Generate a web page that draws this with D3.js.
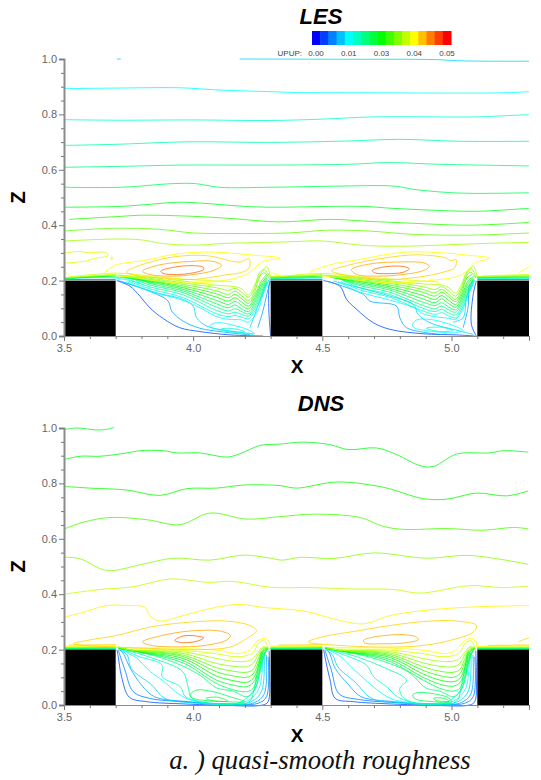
<!DOCTYPE html>
<html lang="en">

<head>
    <meta charset="UTF-8">
    <title>LES / DNS UPUP contours</title>
    <style>
        html, body { margin: 0; padding: 0; background: #fff; }
        svg { display: block; }
    </style>
</head>

<body>
    <div id="chart"></div>

    <script src="https://d3js.org/d3.v7.min.js"></script>
    <script>
        // tick labels and colour key
        const xMajor = [3.5, 4.0, 4.5, 5.0];
        const xMinor = [3.6, 3.7, 3.8, 3.9, 4.1, 4.2, 4.3, 4.4, 4.6, 4.7, 4.8, 4.9, 5.1, 5.2, 5.3];
        const zMajor = [0.0, 0.2, 0.4, 0.6, 0.8, 1.0];
        const zMinor = [0.05, 0.1, 0.15, 0.25, 0.3, 0.35, 0.45, 0.5, 0.55, 0.65, 0.7, 0.75, 0.85, 0.9, 0.95];
        const keyValues = [0, 0.0031, 0.0063, 0.0094, 0.0125, 0.0156, 0.0188, 0.0219, 0.025, 0.0281, 0.0313, 0.0344, 0.0375, 0.0406, 0.0438, 0.0469, 0.05];
        const keyLabels = ["0.00", "0.01", "0.03", "0.04", "0.05"];
        const roughness = [[3.5, 3.7], [4.3, 4.5], [5.1, 5.3]];

        // LES: [UPUP level, [[x, z], ...]]  (null breaks a line)
        const lesOpen = [
            [0.0104, [[3.705, 1.0], [3.72, 1.0]]],
            [0.0104, [[4.18, 1.0], [4.6, 0.999], [4.93, 0.998], [5.05, 0.993], [5.3, 0.992]]],
            [0.0125, [[3.5, 0.893], [3.7, 0.895], [3.95, 0.896], [4.1, 0.888], [4.3, 0.882], [4.4, 0.879], [4.7, 0.878], [5.0, 0.877], [5.2, 0.878], [5.3, 0.882]]],
            [0.0146, [[3.5, 0.781], [3.7, 0.779], [4.0, 0.78], [4.3, 0.778], [4.5, 0.783], [4.7, 0.791], [5.1, 0.791], [5.2, 0.795], [5.3, 0.799]]],
            [0.0167, [[3.5, 0.688], [3.7, 0.692], [3.98, 0.701], [4.3, 0.699], [4.6, 0.704], [4.8, 0.71], [5.03, 0.703], [5.3, 0.703]]],
            [0.0188, [[3.5, 0.609], [3.75, 0.613], [3.95, 0.617], [4.3, 0.617], [4.6, 0.62], [4.76, 0.626], [4.95, 0.62], [5.3, 0.614]]],
            [0.0208, [[3.5, 0.537], [3.72, 0.537], [3.92, 0.55], [4.01, 0.55], [4.1, 0.537], [4.3, 0.537], [4.55, 0.541], [4.78, 0.541], [4.85, 0.53], [4.97, 0.519], [5.08, 0.515], [5.3, 0.517]]],
            [0.0235, [[3.5, 0.465], [3.72, 0.468], [3.84, 0.476], [3.95, 0.483], [4.2, 0.468], [4.3, 0.465], [4.65, 0.468], [4.77, 0.461], [4.93, 0.454], [5.08, 0.45], [5.15, 0.452], [5.3, 0.461]]],
            [0.027, [[3.52, 0.421], [3.72, 0.432], [3.8, 0.436], [4.0, 0.432], [4.15, 0.424], [4.33, 0.412], [4.53, 0.421], [4.68, 0.414], [4.85, 0.407], [5.05, 0.4], [5.17, 0.403], [5.3, 0.41]]],
            [0.03, [[3.5, 0.379], [3.7, 0.389], [3.87, 0.385], [4.0, 0.372], [4.15, 0.37], [4.37, 0.372], [4.52, 0.382], [4.68, 0.379], [4.85, 0.367], [5.07, 0.364], [5.3, 0.372]]],
            [0.033, [[3.5, 0.343], [3.7, 0.35], [3.8, 0.347], [3.88, 0.334], [4.0, 0.328], [4.12, 0.334], [4.37, 0.34], [4.5, 0.343], [4.65, 0.328], [4.78, 0.324], [4.95, 0.328], [5.12, 0.334], [5.3, 0.338]]],
            [0.036, [[3.5, 0.3], [3.56, 0.305], [3.6, 0.3], [3.63, 0.303], [3.665, 0.3], [3.67, 0.29], [3.62, 0.28], [3.58, 0.27], [3.5, 0.263]]],
            [0.0375, [[3.5, 0.245], [3.51, 0.225], [3.53, 0.212]]],
            [0.0375, [[5.26, 0.228], [5.3, 0.251]]],
            [0.0375, [[4.3, 0.23], [4.37, 0.21], [4.44, 0.213]]],
            // right wall of the first cavity
            [0.004, [[4.3, 0], [4.293, 0.09], [4.295, 0.19], [4.3, 0.2]]],
            [0.0083, [[4.25, 0.03], [4.27, 0.09], [4.285, 0.15], [4.298, 0.198]]],
            [0.0104, [[4.22, 0.03], [4.258, 0.126], [4.283, 0.19], [4.3, 0.205]]],
            // first cavity, lower fan
            [0.004, [[3.704, 0.2], [3.755, 0.18], [3.794, 0.144], [3.832, 0.102], [3.884, 0.063], [3.948, 0.03], [4.026, 0.016], [4.142, 0.004], [4.27, 0]]],
            [0.0083, [[3.71, 0.2], [3.83, 0.162], [3.903, 0.126], [3.917, 0.09], [3.961, 0.054], [4.026, 0.028], [4.103, 0.016], [4.22, 0.004]]],
            [0.0104, [[3.729, 0.195], [3.858, 0.156], [3.961, 0.132], [4.0, 0.108], [4.013, 0.066], [4.052, 0.036], [4.129, 0.02], [4.232, 0.008]]],
            // first cavity, wavy levels
            [0.0125, [[3.74, 0.197], [3.833, 0.162], [3.962, 0.128], [4.03, 0.1], [4.091, 0.07], [4.136, 0.06], [4.188, 0.058], [4.214, 0.05], [4.25, 0.09], [4.27, 0.15], [4.295, 0.205]]],
            [0.0146, [[3.75, 0.198], [3.833, 0.17], [3.962, 0.138], [4.091, 0.08], [4.136, 0.07], [4.162, 0.074], [4.188, 0.068], [4.214, 0.062], [4.239, 0.09], [4.265, 0.14], [4.285, 0.19]]],
            [0.0167, [[3.76, 0.2], [3.833, 0.177], [3.962, 0.148], [4.091, 0.092], [4.136, 0.08], [4.162, 0.086], [4.188, 0.078], [4.214, 0.072], [4.239, 0.1], [4.265, 0.15], [4.285, 0.195]]],
            [0.0188, [[3.77, 0.205], [3.833, 0.184], [3.962, 0.156], [4.091, 0.104], [4.136, 0.09], [4.162, 0.098], [4.188, 0.088], [4.214, 0.08], [4.239, 0.11], [4.265, 0.16], [4.285, 0.2]]],
            [0.0208, [[3.78, 0.208], [3.833, 0.19], [3.962, 0.162], [4.091, 0.116], [4.136, 0.102], [4.162, 0.112], [4.188, 0.098], [4.214, 0.088], [4.239, 0.12], [4.265, 0.17], [4.285, 0.205]]],
            [0.0229, [[3.76, 0.21], [3.833, 0.195], [3.962, 0.168], [4.091, 0.128], [4.136, 0.114], [4.162, 0.125], [4.188, 0.11], [4.214, 0.098], [4.239, 0.13], [4.265, 0.18], [4.285, 0.21]]],
            [0.025, [[3.74, 0.21], [3.833, 0.198], [3.962, 0.174], [4.091, 0.14], [4.136, 0.126], [4.162, 0.138], [4.188, 0.122], [4.214, 0.108], [4.239, 0.14], [4.265, 0.19], [4.285, 0.215]]],
            [0.0271, [[3.73, 0.212], [3.833, 0.2], [3.962, 0.18], [4.091, 0.152], [4.136, 0.138], [4.162, 0.15], [4.188, 0.134], [4.214, 0.118], [4.239, 0.15], [4.265, 0.2], [4.285, 0.222]]],
            [0.0292, [[3.72, 0.215], [3.833, 0.204], [3.962, 0.186], [4.091, 0.163], [4.136, 0.15], [4.162, 0.162], [4.188, 0.145], [4.214, 0.128], [4.238, 0.16], [4.258, 0.215], [4.275, 0.228], [4.295, 0.208]]],
            [0.0313, [[3.71, 0.218], [3.833, 0.208], [3.962, 0.192], [4.091, 0.174], [4.136, 0.165], [4.162, 0.172], [4.188, 0.158], [4.214, 0.14], [4.235, 0.165], [4.255, 0.225], [4.275, 0.24], [4.29, 0.225], [4.3, 0.208]]],
            [0.0333, [[3.7, 0.22], [3.833, 0.212], [3.962, 0.198], [4.091, 0.183], [4.162, 0.178], [4.188, 0.17], [4.214, 0.148], [4.239, 0.185], [4.265, 0.23], [4.285, 0.25], [4.3, 0.21]]],
            // second cavity
            [0.004, [[4.504, 0.2], [4.568, 0.18], [4.594, 0.132], [4.633, 0.096], [4.697, 0.048], [4.762, 0.024], [4.89, 0.008], [5.019, 0.004], [5.09, 0]]],
            [0.0083, [[4.518, 0.198], [4.659, 0.15], [4.684, 0.126], [4.787, 0.108], [4.8, 0.066], [4.826, 0.03], [4.955, 0.006]]],
            [0.0104, [[4.543, 0.198], [4.762, 0.144], [4.852, 0.114], [4.871, 0.078], [4.916, 0.048], [5.006, 0.024], [5.084, 0.006]]],
            [0.004, [[5.096, 0], [5.077, 0.042], [5.084, 0.15], [5.096, 0.198]]],
            [0.0083, [[5.045, 0.03], [5.064, 0.102], [5.071, 0.186], [5.09, 0.198]]],
            [0.0104, [[5.006, 0.05], [5.045, 0.066], [5.058, 0.138], [5.084, 0.204]]],
            [0.0125, [[4.56, 0.197], [4.64, 0.16], [4.76, 0.13], [4.86, 0.1], [4.89, 0.08], [4.95, 0.068], [4.99, 0.064], [5.014, 0.06], [5.04, 0.09], [5.065, 0.15], [5.09, 0.205]]],
            [0.0146, [[4.57, 0.198], [4.64, 0.168], [4.76, 0.14], [4.89, 0.09], [4.936, 0.078], [4.962, 0.084], [4.99, 0.072], [5.016, 0.066], [5.04, 0.098], [5.065, 0.15], [5.085, 0.19]]],
            [0.0167, [[4.58, 0.2], [4.64, 0.176], [4.76, 0.15], [4.89, 0.1], [4.936, 0.088], [4.962, 0.096], [4.99, 0.082], [5.016, 0.076], [5.04, 0.108], [5.065, 0.16], [5.085, 0.195]]],
            [0.0188, [[4.57, 0.205], [4.64, 0.183], [4.76, 0.158], [4.89, 0.11], [4.936, 0.098], [4.962, 0.108], [4.99, 0.094], [5.016, 0.086], [5.04, 0.118], [5.065, 0.17], [5.085, 0.2]]],
            [0.0208, [[4.56, 0.208], [4.64, 0.188], [4.76, 0.166], [4.89, 0.122], [4.936, 0.11], [4.962, 0.12], [4.99, 0.104], [5.016, 0.094], [5.04, 0.128], [5.065, 0.18], [5.085, 0.205]]],
            [0.0229, [[4.55, 0.21], [4.64, 0.193], [4.76, 0.172], [4.89, 0.134], [4.936, 0.12], [4.962, 0.134], [4.99, 0.116], [5.016, 0.104], [5.04, 0.138], [5.065, 0.19], [5.085, 0.21]]],
            [0.025, [[4.54, 0.21], [4.64, 0.197], [4.76, 0.178], [4.89, 0.146], [4.936, 0.132], [4.962, 0.146], [4.99, 0.128], [5.016, 0.114], [5.04, 0.148], [5.065, 0.2], [5.085, 0.215]]],
            [0.0271, [[4.53, 0.212], [4.64, 0.2], [4.76, 0.184], [4.89, 0.158], [4.936, 0.144], [4.962, 0.158], [4.99, 0.14], [5.016, 0.124], [5.04, 0.158], [5.06, 0.21], [5.08, 0.222]]],
            [0.0292, [[4.52, 0.215], [4.64, 0.204], [4.76, 0.19], [4.89, 0.168], [4.936, 0.156], [4.962, 0.168], [4.99, 0.15], [5.016, 0.132], [5.04, 0.17], [5.06, 0.22], [5.075, 0.23], [5.095, 0.208]]],
            [0.0313, [[4.51, 0.218], [4.64, 0.208], [4.76, 0.196], [4.89, 0.178], [4.936, 0.168], [4.962, 0.178], [4.99, 0.162], [5.016, 0.144], [5.038, 0.175], [5.058, 0.23], [5.078, 0.242], [5.095, 0.21]]],
            [0.0333, [[4.5, 0.22], [4.64, 0.212], [4.76, 0.2], [4.89, 0.188], [4.962, 0.184], [4.99, 0.174], [5.016, 0.155], [5.04, 0.19], [5.065, 0.235], [5.085, 0.252], [5.1, 0.21]]]
        ];

        const lesLoops = [
            [0.0375, [[3.659, 0.228], [3.704, 0.257], [3.807, 0.272], [3.936, 0.296], [4.064, 0.303], [4.219, 0.293], [4.335, 0.281], [4.27, 0.269], [4.232, 0.24], [4.206, 0.222], [4.116, 0.2], [3.94, 0.192], [3.76, 0.212]]],
            [0.0396, [[3.742, 0.231], [3.82, 0.263], [3.936, 0.287], [4.052, 0.29], [4.18, 0.267], [4.216, 0.279], [4.219, 0.251], [4.2, 0.234], [4.116, 0.219], [4.0, 0.204], [3.871, 0.21], [3.781, 0.219]]],
            [0.0417, [[3.804, 0.234], [3.871, 0.257], [3.987, 0.269], [4.077, 0.269], [4.11, 0.255], [4.077, 0.236], [4.0, 0.222], [3.923, 0.216], [3.832, 0.222]]],
            [0.045, [[3.875, 0.234], [3.923, 0.248], [4.0, 0.254], [4.039, 0.248], [4.04, 0.24], [4.0, 0.228], [3.936, 0.222], [3.884, 0.226]]],
            [0.0375, [[4.452, 0.228], [4.53, 0.257], [4.633, 0.275], [4.826, 0.303], [4.981, 0.299], [5.071, 0.291], [5.148, 0.281], [5.09, 0.263], [5.058, 0.234], [5.026, 0.216], [4.955, 0.204], [4.762, 0.192], [4.568, 0.21]]],
            [0.0396, [[4.536, 0.236], [4.607, 0.257], [4.736, 0.281], [4.865, 0.293], [4.981, 0.281], [4.994, 0.272], [5.019, 0.275], [5.012, 0.246], [4.981, 0.234], [4.916, 0.219], [4.762, 0.204], [4.607, 0.216]]],
            [0.0417, [[4.613, 0.24], [4.684, 0.26], [4.787, 0.267], [4.897, 0.263], [4.914, 0.251], [4.89, 0.236], [4.813, 0.222], [4.71, 0.216], [4.633, 0.222]]],
            [0.045, [[4.693, 0.236], [4.736, 0.249], [4.813, 0.251], [4.836, 0.243], [4.813, 0.23], [4.749, 0.225], [4.703, 0.228]]],
            [0.0125, [[4.064, 0.036], [4.09, 0.048], [4.168, 0.036], [4.219, 0.02], [4.238, 0.008], [4.168, 0.012], [4.09, 0.024]]],
            [0.0146, [[4.11, 0.026], [4.16, 0.026], [4.2, 0.015], [4.15, 0.016]]],
            [0.0125, [[4.849, 0.042], [4.865, 0.058], [4.916, 0.06], [4.994, 0.042], [5.045, 0.02], [5.019, 0.012], [4.916, 0.018], [4.855, 0.03]]],
            [0.0146, [[4.903, 0.028], [4.955, 0.032], [5.006, 0.02], [4.955, 0.016]]],
            [0.036, [[3.682, 0.285], [3.69, 0.28], [3.684, 0.275]]]
        ];

        const lesSurface = [
            [0.0063, [[3.5, 0.204], [3.7, 0.204], null, [4.3, 0.204], [4.5, 0.204], null, [5.1, 0.204], [5.3, 0.204]]],
            [0.0125, [[3.5, 0.206], [3.7, 0.209], [3.8, 0.19], null, [4.3, 0.207], [4.5, 0.209], null, [5.1, 0.207], [5.3, 0.208]]],
            [0.0188, [[3.5, 0.207], [3.7, 0.213], [3.85, 0.19], null, [4.3, 0.208], [4.5, 0.212], null, [5.1, 0.209], [5.3, 0.21]]],
            [0.025, [[3.5, 0.208], [3.7, 0.217], null, [4.3, 0.21], [4.5, 0.216], null, [5.1, 0.211], [5.3, 0.213]]],
            [0.0292, [[3.5, 0.209], [3.7, 0.22], null, [4.3, 0.212], [4.5, 0.219], null, [5.1, 0.213], [5.3, 0.216]]],
            [0.0333, [[3.5, 0.21], [3.7, 0.223], null, [4.3, 0.214], [4.5, 0.222], null, [5.1, 0.215], [5.3, 0.219]]],
            [0.0354, [[3.52, 0.213], [3.7, 0.227], [3.85, 0.215], [4.0, 0.203], [4.15, 0.197], null, [4.33, 0.214], [4.5, 0.226], [4.7, 0.21], [4.95, 0.195], null, [5.12, 0.217], [5.3, 0.222]]]
        ];

        // DNS
        const dnsOpen = [
            [0.0229, [[3.5, 0.994], [3.549, 1.0], [3.626, 0.993], [3.665, 0.995], [3.694, 1.002]]],
            [0.024, [[3.5, 0.886], [3.562, 0.898], [3.639, 0.898], [3.743, 0.91], [3.794, 0.918], [3.885, 0.918], [3.937, 0.91], [4.026, 0.91], [4.13, 0.895], [4.181, 0.907], [4.259, 0.937], [4.336, 0.942], [4.427, 0.949], [4.53, 0.94], [4.6, 0.922], [4.71, 0.928], [4.788, 0.904], [4.878, 0.864], [4.93, 0.861], [5.02, 0.906], [5.149, 0.91], [5.2, 0.918], [5.297, 0.913]]],
            [0.0255, [[3.5, 0.789], [3.6, 0.783], [3.743, 0.776], [3.872, 0.757], [3.975, 0.781], [4.091, 0.783], [4.194, 0.794], [4.336, 0.792], [4.4, 0.783], [4.556, 0.805], [4.736, 0.786], [4.891, 0.745], [4.981, 0.743], [5.097, 0.765], [5.214, 0.755], [5.297, 0.773]]],
            [0.0285, [[3.5, 0.635], [3.575, 0.66], [3.678, 0.677], [3.82, 0.669], [3.949, 0.651], [4.065, 0.693], [4.207, 0.671], [4.336, 0.68], [4.465, 0.689], [4.646, 0.677], [4.736, 0.645], [4.814, 0.634], [4.981, 0.637], [5.123, 0.631], [5.24, 0.641], [5.297, 0.636]]],
            [0.0315, [[3.5, 0.534], [3.562, 0.528], [3.665, 0.486], [3.794, 0.506], [3.923, 0.53], [4.065, 0.523], [4.194, 0.541], [4.3, 0.53], [4.343, 0.523], [4.414, 0.533], [4.543, 0.529], [4.7, 0.549], [4.904, 0.53], [5.07, 0.54], [5.297, 0.508]]],
            [0.0345, [[3.5, 0.4], [3.639, 0.417], [3.768, 0.427], [3.91, 0.455], [4.052, 0.443], [4.155, 0.446], [4.3, 0.425], [4.452, 0.424], [4.607, 0.419], [4.775, 0.417], [4.878, 0.404], [5.07, 0.431], [5.2, 0.424], [5.297, 0.429]]],
            [0.038, [[3.5, 0.317], [3.575, 0.335], [3.665, 0.359], [3.742, 0.359], [3.813, 0.353], [3.832, 0.323], [3.871, 0.303], [3.961, 0.323], [4.09, 0.353], [4.18, 0.363], [4.283, 0.351], [4.375, 0.345], [4.452, 0.335], [4.543, 0.311], [4.659, 0.293], [4.762, 0.323], [4.89, 0.341], [5.02, 0.351], [5.148, 0.356], [5.3, 0.359]]],
            [0.0396, [[5.26, 0.228], [5.28, 0.236], [5.3, 0.242]]],
            // first cavity
            [0.004, [[3.705, 0.2], [3.71, 0.174], [3.723, 0.102], [3.753, 0.028], [3.82, 0.012], [3.961, 0.004], [4.09, 0], [4.27, 0], [4.29, 0.012], [4.296, 0.114], [4.294, 0.196]]],
            [0.0063, [[3.71, 0.198], [3.736, 0.126], [3.768, 0.048], [3.832, 0.024], [3.961, 0.012], [4.116, 0.004], [4.251, 0.006], [4.284, 0.03], [4.29, 0.174]]],
            [0.0083, [[3.712, 0.2], [3.725, 0.192], [3.757, 0.132], [3.8, 0.072], [3.85, 0.03], [3.98, 0.012], [4.09, 0.004], [4.235, 0.008], [4.275, 0.04], [4.283, 0.18]]],
            [0.0104, [[3.715, 0.2], [3.745, 0.18], [3.76, 0.132], [3.84, 0.072], [3.89, 0.024], [3.99, 0.008], [4.14, 0.004], [4.225, 0.012], [4.265, 0.05], [4.275, 0.19]]],
            [0.0125, [[3.718, 0.201], [3.78, 0.17], [3.835, 0.12], [3.88, 0.09], [3.95, 0.036], [4.01, 0.012], [4.13, 0.004], [4.21, 0.015], [4.255, 0.06], [4.27, 0.19]]],
            [0.0146, [[3.72, 0.202], [3.79, 0.175], [3.88, 0.144], [3.88, 0.102], [3.95, 0.066], [3.97, 0.03], [4.03, 0.012], [4.16, 0.004], [4.2, 0.02], [4.245, 0.07], [4.265, 0.195]]],
            [0.0167, [[3.72, 0.203], [3.84, 0.17], [3.96, 0.12], [3.98, 0.066], [3.995, 0.024], [4.06, 0.006], [4.2, 0.004], [4.225, 0.02], [4.235, 0.054], [4.262, 0.19]]],
            [0.0188, [[3.72, 0.204], [3.85, 0.178], [3.961, 0.14], [4.03, 0.105], [4.09, 0.062], [4.155, 0.05], [4.206, 0.03], [4.232, 0.045], [4.251, 0.09], [4.27, 0.165], [4.285, 0.2]]],
            [0.0208, [[3.71, 0.204], [3.82, 0.186], [3.961, 0.152], [4.09, 0.078], [4.155, 0.055], [4.206, 0.048], [4.232, 0.06], [4.251, 0.105], [4.27, 0.17], [4.288, 0.203]]],
            [0.0229, [[3.71, 0.205], [3.8, 0.19], [3.961, 0.16], [4.09, 0.09], [4.155, 0.072], [4.206, 0.066], [4.232, 0.08], [4.251, 0.12], [4.27, 0.18], [4.29, 0.204]]],
            [0.025, [[3.71, 0.206], [3.79, 0.192], [3.961, 0.168], [4.09, 0.105], [4.155, 0.088], [4.206, 0.082], [4.232, 0.095], [4.251, 0.135], [4.27, 0.19], [4.29, 0.205]]],
            [0.0271, [[3.71, 0.207], [3.78, 0.195], [3.961, 0.175], [4.09, 0.12], [4.155, 0.105], [4.206, 0.1], [4.232, 0.112], [4.251, 0.15], [4.27, 0.195], [4.29, 0.205]]],
            [0.0292, [[3.71, 0.208], [3.77, 0.197], [3.961, 0.18], [4.09, 0.135], [4.155, 0.122], [4.206, 0.118], [4.232, 0.128], [4.251, 0.165], [4.27, 0.2], [4.29, 0.206]]],
            [0.0313, [[3.71, 0.209], [3.76, 0.199], [3.961, 0.186], [4.09, 0.15], [4.155, 0.14], [4.206, 0.138], [4.232, 0.15], [4.251, 0.18], [4.27, 0.205], [4.29, 0.206]]],
            [0.0333, [[3.71, 0.21], [3.75, 0.2], [3.961, 0.192], [4.09, 0.168], [4.155, 0.158], [4.206, 0.158], [4.232, 0.168], [4.251, 0.19], [4.27, 0.21], [4.29, 0.207]]],
            [0.0354, [[3.74, 0.202], [3.961, 0.197], [4.09, 0.185], [4.155, 0.175], [4.206, 0.178], [4.232, 0.19], [4.255, 0.225], [4.275, 0.232], [4.29, 0.21]]],
            [0.0375, [[3.73, 0.208], [3.961, 0.204], [4.09, 0.198], [4.18, 0.186], [4.22, 0.2], [4.25, 0.232], [4.28, 0.24], [4.296, 0.225], [4.296, 0.208]]],
            // second cavity
            [0.004, [[4.505, 0.2], [4.51, 0.174], [4.53, 0.09], [4.55, 0.024], [4.62, 0.012], [4.76, 0.004], [4.9, 0], [5.07, 0], [5.09, 0.012], [5.096, 0.114], [5.094, 0.196]]],
            [0.0063, [[4.51, 0.198], [4.535, 0.126], [4.565, 0.04], [4.64, 0.02], [4.76, 0.01], [4.92, 0.004], [5.05, 0.006], [5.084, 0.03], [5.09, 0.174]]],
            [0.0083, [[4.512, 0.2], [4.525, 0.192], [4.55, 0.132], [4.6, 0.075], [4.65, 0.03], [4.78, 0.012], [4.89, 0.004], [5.035, 0.008], [5.075, 0.04], [5.083, 0.18]]],
            [0.0104, [[4.515, 0.2], [4.54, 0.18], [4.56, 0.138], [4.63, 0.08], [4.69, 0.024], [4.8, 0.008], [4.94, 0.004], [5.025, 0.012], [5.065, 0.05], [5.075, 0.19]]],
            [0.0125, [[4.518, 0.201], [4.57, 0.175], [4.62, 0.13], [4.68, 0.08], [4.75, 0.03], [4.81, 0.012], [4.93, 0.004], [5.01, 0.015], [5.055, 0.06], [5.07, 0.19]]],
            [0.0146, [[4.52, 0.202], [4.6, 0.175], [4.67, 0.145], [4.7, 0.1], [4.75, 0.065], [4.79, 0.03], [4.84, 0.012], [4.96, 0.004], [5.0, 0.02], [5.045, 0.07], [5.065, 0.195]]],
            [0.0167, [[4.52, 0.203], [4.64, 0.172], [4.74, 0.135], [4.826, 0.09], [4.8, 0.06], [4.81, 0.03], [4.86, 0.006], [5.0, 0.004], [5.025, 0.02], [5.035, 0.054], [5.062, 0.19]]],
            [0.0188, [[4.52, 0.204], [4.66, 0.178], [4.76, 0.15], [4.84, 0.115], [4.9, 0.062], [4.955, 0.05], [5.006, 0.03], [5.032, 0.045], [5.051, 0.09], [5.07, 0.165], [5.085, 0.2]]],
            [0.0208, [[4.51, 0.204], [4.63, 0.186], [4.76, 0.158], [4.89, 0.09], [4.955, 0.06], [5.006, 0.05], [5.032, 0.06], [5.051, 0.105], [5.07, 0.17], [5.088, 0.203]]],
            [0.0229, [[4.51, 0.205], [4.61, 0.19], [4.76, 0.165], [4.89, 0.1], [4.955, 0.075], [5.006, 0.068], [5.032, 0.08], [5.051, 0.12], [5.07, 0.18], [5.09, 0.204]]],
            [0.025, [[4.51, 0.206], [4.59, 0.192], [4.76, 0.172], [4.89, 0.112], [4.955, 0.09], [5.006, 0.084], [5.032, 0.095], [5.051, 0.135], [5.07, 0.19], [5.09, 0.205]]],
            [0.0271, [[4.51, 0.207], [4.58, 0.195], [4.76, 0.178], [4.89, 0.125], [4.955, 0.106], [5.006, 0.1], [5.032, 0.112], [5.051, 0.15], [5.07, 0.195], [5.09, 0.205]]],
            [0.0292, [[4.51, 0.208], [4.57, 0.197], [4.76, 0.183], [4.89, 0.138], [4.955, 0.122], [5.006, 0.118], [5.032, 0.128], [5.051, 0.165], [5.07, 0.2], [5.09, 0.206]]],
            [0.0313, [[4.51, 0.209], [4.56, 0.199], [4.76, 0.188], [4.89, 0.152], [4.955, 0.14], [5.006, 0.138], [5.032, 0.15], [5.051, 0.18], [5.07, 0.205], [5.09, 0.206]]],
            [0.0333, [[4.51, 0.21], [4.55, 0.2], [4.76, 0.193], [4.89, 0.168], [4.955, 0.158], [5.006, 0.158], [5.032, 0.168], [5.051, 0.19], [5.07, 0.21], [5.09, 0.207]]],
            [0.0354, [[4.54, 0.202], [4.76, 0.198], [4.89, 0.185], [4.955, 0.175], [5.006, 0.178], [5.032, 0.19], [5.055, 0.225], [5.075, 0.232], [5.09, 0.21]]],
            [0.0375, [[4.53, 0.208], [4.76, 0.205], [4.89, 0.198], [4.98, 0.186], [5.02, 0.2], [5.05, 0.232], [5.08, 0.24], [5.096, 0.225], [5.096, 0.208]]]
        ];

        const dnsLoops = [
            [0.0396, [[3.536, 0.221], [3.6, 0.235], [3.704, 0.251], [3.832, 0.281], [3.961, 0.297], [4.129, 0.303], [4.219, 0.287], [4.245, 0.269], [4.206, 0.239], [4.142, 0.209], [4.026, 0.2], [3.832, 0.204], [3.639, 0.212]]],
            [0.0417, [[3.804, 0.228], [3.871, 0.249], [3.987, 0.267], [4.103, 0.267], [4.144, 0.251], [4.129, 0.234], [4.052, 0.216], [3.961, 0.21], [3.832, 0.216]]],
            [0.045, [[3.929, 0.233], [3.961, 0.249], [4.013, 0.249], [4.041, 0.242], [4.013, 0.23], [3.961, 0.225]]],
            [0.0396, [[4.446, 0.228], [4.5, 0.246], [4.633, 0.267], [4.762, 0.287], [4.916, 0.303], [5.019, 0.303], [5.097, 0.287], [5.084, 0.263], [4.994, 0.233], [4.89, 0.215], [4.762, 0.209], [4.568, 0.215]]],
            [0.0417, [[4.659, 0.233], [4.697, 0.245], [4.813, 0.254], [4.865, 0.245], [4.871, 0.236], [4.826, 0.225], [4.736, 0.221], [4.665, 0.224]]],
            [0.0208, [[3.988, 0.036], [4.013, 0.054], [4.077, 0.048], [4.142, 0.03], [4.2, 0.012], [4.13, 0.012], [4.0, 0.024]]],
            [0.0229, [[4.05, 0.024], [4.095, 0.028], [4.134, 0.014], [4.07, 0.016]]],
            [0.0208, [[4.85, 0.036], [4.865, 0.044], [4.92, 0.042], [4.99, 0.025], [5.0, 0.01], [4.93, 0.012], [4.86, 0.022]]],
            [0.0229, [[4.93, 0.024], [4.97, 0.024], [4.99, 0.014], [4.94, 0.016]]]
        ];

        const dnsSurface = [
            [0.0063, [[3.5, 0.202], [3.7, 0.202], null, [4.3, 0.202], [4.5, 0.202], null, [5.1, 0.202], [5.3, 0.202]]],
            [0.0125, [[3.5, 0.203], [3.7, 0.203], null, [4.3, 0.203], [4.5, 0.203], null, [5.1, 0.203], [5.3, 0.203]]],
            [0.0188, [[3.5, 0.204], [3.7, 0.205], null, [4.3, 0.204], [4.5, 0.205], null, [5.1, 0.204], [5.3, 0.205]]],
            [0.025, [[3.5, 0.206], [3.7, 0.207], null, [4.3, 0.206], [4.5, 0.207], null, [5.1, 0.206], [5.3, 0.206]]],
            [0.0313, [[3.5, 0.208], [3.7, 0.209], null, [4.3, 0.208], [4.5, 0.209], null, [5.1, 0.208], [5.3, 0.208]]],
            [0.0354, [[3.5, 0.21], [3.7, 0.211], null, [4.3, 0.21], [4.5, 0.211], null, [5.1, 0.21], [5.3, 0.21]]],
            [0.0375, [[3.5, 0.212], [3.7, 0.214], null, [4.3, 0.213], [4.5, 0.214], null, [5.1, 0.212], [5.3, 0.214]]],
            [0.0396, [[3.52, 0.216], [3.7, 0.218], null, [4.33, 0.216], [4.5, 0.218], null, [5.14, 0.215], [5.3, 0.217]]]
        ];

        const width = 541, height = 780;
        const plotLeft = 64, plotRight = 529;

        const svg = d3.select("#chart").append("svg")
            .attr("width", width)
            .attr("height", height)
            .attr("font-family", "'Liberation Sans', Arial, sans-serif");

        const x = d3.scaleLinear().domain([3.5, 5.3]).range([plotLeft, plotRight]);

        const color = d3.scaleLinear()
            .domain([0, 0.0125, 0.025, 0.0375, 0.05])
            .range(["#0000ff", "#00ffff", "#00ff00", "#ffff00", "#ff0000"]);

        function drawPanel(title, top, bottom, titleY, open, loops, surface) {
            const z = d3.scaleLinear().domain([0, 1]).range([bottom, top]);
            const g = svg.append("g");

            const openLine = d3.line()
                .defined(d => d)
                .x(d => x(d[0]))
                .y(d => z(d[1]))
                .curve(d3.curveCatmullRom.alpha(0.5));

            const loopLine = d3.line()
                .x(d => x(d[0]))
                .y(d => z(d[1]))
                .curve(d3.curveCatmullRomClosed.alpha(0.5));

            g.selectAll(".level")
                .data(open.concat(surface))
                .enter().append("path")
                .attr("fill", "none")
                .attr("stroke", d => color(d[0]))
                .attr("stroke-width", 0.8)
                .attr("d", d => openLine(d[1]));

            g.selectAll(".loop")
                .data(loops)
                .enter().append("path")
                .attr("fill", "none")
                .attr("stroke", d => color(d[0]))
                .attr("stroke-width", 0.8)
                .attr("d", d => loopLine(d[1]));

            // roughness elements
            g.selectAll(".block")
                .data(roughness)
                .enter().append("rect")
                .attr("x", d => x(d[0]))
                .attr("y", z(0.2))
                .attr("width", d => x(d[1]) - x(d[0]))
                .attr("height", z(0) - z(0.2))
                .attr("fill", "#000");

            // axes
            const xAxis = g.append("g")
                .attr("transform", `translate(0,${bottom})`)
                .call(d3.axisBottom(x).tickValues(xMajor).tickSize(5).tickPadding(3).tickFormat(d3.format(".1f")));
            const xSmall = g.append("g")
                .attr("transform", `translate(0,${bottom})`)
                .call(d3.axisBottom(x).tickValues(xMinor).tickSize(3).tickSizeOuter(0).tickFormat(""));
            const zAxis = g.append("g")
                .attr("transform", `translate(${plotLeft},0)`)
                .call(d3.axisLeft(z).tickValues(zMajor).tickSize(5).tickPadding(2).tickFormat(d3.format(".1f")));
            const zSmall = g.append("g")
                .attr("transform", `translate(${plotLeft},0)`)
                .call(d3.axisLeft(z).tickValues(zMinor).tickSize(3).tickSizeOuter(0).tickFormat(""));

            [xAxis, xSmall, zAxis, zSmall].forEach(a => {
                a.selectAll("path").attr("stroke", "#8c8c8c");
                a.selectAll("line").attr("stroke", "#777");
                a.selectAll("text").attr("fill", "#666").attr("font-size", 11)
                    .attr("font-family", "'Liberation Sans', Arial, sans-serif");
            });
            zAxis.select("path").attr("stroke-width", 2);

            svg.append("text")
                .attr("x", 321)
                .attr("y", titleY)
                .attr("text-anchor", "middle")
                .attr("font-size", 22)
                .attr("font-weight", "bold")
                .attr("font-style", "italic")
                .text(title);

            svg.append("text")
                .attr("x", 297)
                .attr("y", bottom + 37)
                .attr("text-anchor", "middle")
                .attr("font-size", 19)
                .attr("font-weight", "bold")
                .text("X");

            svg.append("text")
                .attr("transform", `translate(25,${z(0.5)}) rotate(-90)`)
                .attr("text-anchor", "middle")
                .attr("font-size", 20)
                .attr("font-weight", "bold")
                .text("Z");
        }

        drawPanel("LES", 59, 336, 24, lesOpen, lesLoops, lesSurface);
        drawPanel("DNS", 428, 705, 411, dnsOpen, dnsLoops, dnsSurface);

        // colour key
        const keyBand = d3.scaleBand().domain(keyValues).range([312, 451]);
        const keyAxis = d3.scalePoint().domain(keyLabels).range([316, 447]);

        svg.selectAll(".key")
            .data(keyValues)
            .enter().append("rect")
            .attr("x", d => keyBand(d))
            .attr("y", 31)
            .attr("width", keyBand.bandwidth() + 0.5)
            .attr("height", 14)
            .attr("fill", d => color(d));

        svg.selectAll(".keyLabel")
            .data(keyLabels)
            .enter().append("text")
            .attr("x", d => keyAxis(d))
            .attr("y", 56)
            .attr("text-anchor", "middle")
            .attr("font-size", 8)
            .attr("fill", "#444")
            .text(d => d);

        svg.append("text")
            .attr("x", 302)
            .attr("y", 56)
            .attr("text-anchor", "end")
            .attr("font-size", 8)
            .attr("fill", "#444")
            .text("UPUP:");

        svg.append("text")
            .attr("x", 320)
            .attr("y", 769)
            .attr("text-anchor", "middle")
            .attr("font-family", "'Liberation Serif', 'Times New Roman', serif")
            .attr("font-size", 26.7)
            .attr("font-style", "italic")
            .attr("fill", "#111")
            .text("a. ) quasi-smooth roughness");
    </script>
</body>

</html>
